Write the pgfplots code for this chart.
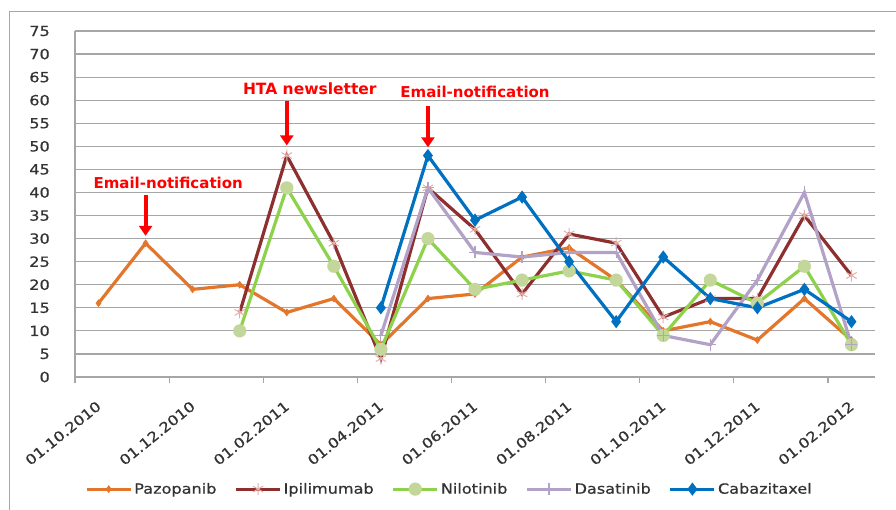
\documentclass[border=0pt]{standalone}
\usepackage{fontspec}
\setmainfont{DejaVu Sans}
\newfontfamily\lsfont{DejaVu Sans}[FakeStretch=1.15, FakeBold=0.6]
\usepackage{pgfplots}
\pgfplotsset{compat=1.18}
\usetikzlibrary{arrows.meta}
\definecolor{gridgray}{HTML}{A6A6A6}
\definecolor{cpaz}{HTML}{E3762A}
\definecolor{cipi}{HTML}{8E2F2F}
\definecolor{cipim}{HTML}{E3AFAA}
\definecolor{cnil}{HTML}{8ED14B}
\definecolor{cnilm}{HTML}{C4D79B}
\definecolor{cdas}{HTML}{B3A2C7}
\definecolor{ccab}{HTML}{0070C0}
\definecolor{txt}{HTML}{333333}
\begin{document}
\begin{tikzpicture}[x=1pt,y=1pt]
\useasboundingbox (0,0) rectangle (896,509);
\draw[gridgray, line width=1pt] (9,-10) -- (9,497) -- (910,497);
\begin{axis}[
  at={(75pt,132pt)}, anchor=south west,
  scale only axis, width=800pt, height=346pt,
  xmin=0, xmax=17, ymin=0, ymax=75,
  ytick={0,5,...,75},
  xtick={0,2,...,16},
  xticklabels={01.10.2010,01.12.2010,01.02.2011,01.04.2011,01.06.2011,01.08.2011,01.10.2011,01.12.2011,01.02.2012},
  axis x line=bottom, axis y line=left,
  axis line style={-, draw=gridgray, line width=1.2pt},
  ymajorgrids, grid style={gridgray, line width=1.2pt},
  tick align=outside, major tick length=6pt,
  xtick style={draw=gridgray, line width=1.2pt},
  ytick style={draw=none},
  /pgf/number format/assume math mode=true,
  ticklabel style={font=\lsfont\fontsize{14}{16}\selectfont, text=txt},
  yticklabel style={anchor=east, inner sep=0pt, xshift=-19pt},
  xticklabel style={inner sep=0pt, xshift=24pt, yshift=-21pt, rotate=39, anchor=east},
  legend style={at={(0.468,-0.324)}, anchor=center, draw=none, fill=none,
    legend columns=-1, font=\lsfont\fontsize{14}{16}\selectfont, text=txt,
    /tikz/every even column/.append style={column sep=16pt}},
  legend image code/.code={\draw[mark repeat=2,mark phase=2] plot coordinates {(0pt,0pt)(22pt,0pt)(44pt,0pt)};},
  clip=false,
]
\addplot[cpaz, line width=3.2pt, mark=diamond*, mark size=3.5pt, mark options={solid, fill=cpaz, draw=cpaz, line width=0.5pt}] coordinates {
(0.5,16)(1.5,29)(2.5,19)(3.5,20)(4.5,14)(5.5,17)(6.5,7)(7.5,17)(8.5,18)(9.5,26)(10.5,28)(11.5,21)(12.5,10)(13.5,12)(14.5,8)(15.5,17)(16.5,8)};
\addlegendentry{Pazopanib}
\addplot[cipi, line width=3.2pt, mark=asterisk, mark size=6pt, mark options={solid, draw=cipim, line width=1pt}] coordinates {
(3.5,14)(4.5,48)(5.5,29)(6.5,4)(7.5,41)(8.5,32)(9.5,18)(10.5,31)(11.5,29)(12.5,13)(13.5,17)(14.5,17)(15.5,35)(16.5,22)};
\addlegendentry{Ipilimumab}
\addplot[cnil, line width=3.2pt, mark=*, mark size=6.5pt, mark options={solid, fill=cnilm, draw=cnilm, line width=0.1pt}] coordinates {
(3.5,10)(4.5,41)(5.5,24)(6.5,6)(7.5,30)(8.5,19)(9.5,21)(10.5,23)(11.5,21)(12.5,9)(13.5,21)(14.5,16)(15.5,24)(16.5,7)};
\addlegendentry{Nilotinib}
\addplot[cdas, line width=3.2pt, mark=+, mark size=6pt, mark options={solid, draw=cdas, line width=1.2pt}] coordinates {
(6.5,9)(7.5,41)(8.5,27)(9.5,26)(10.5,27)(11.5,27)(12.5,9)(13.5,7)(14.5,21)(15.5,40)(16.5,7)};
\addlegendentry{Dasatinib}
\addplot[ccab, line width=3.2pt, mark=diamond*, mark size=4pt, mark options={solid, fill=ccab, draw=ccab}] coordinates {
(6.5,15)(7.5,48)(8.5,34)(9.5,39)(10.5,25)(11.5,12)(12.5,26)(13.5,17)(14.5,15)(15.5,19)(16.5,12)};
\addlegendentry{Cabazitaxel}
\draw[red, line width=4pt, -{Triangle[width=13pt,length=10pt]}] (1.5,39.4) -- (1.5,30.6);
\draw[red, line width=4pt, -{Triangle[width=13pt,length=10pt]}] (4.5,59.8) -- (4.5,50.2);
\draw[red, line width=4pt, -{Triangle[width=13pt,length=10pt]}] (7.5,58.8) -- (7.5,49.8);
\node[red, font=\bfseries\fontsize{15}{17}\selectfont] at (1.98,42) {Email-notification};
\node[red, font=\bfseries\fontsize{15.5}{17}\selectfont] at (4.99,62.5) {HTA newsletter};
\node[red, font=\bfseries\fontsize{15}{17}\selectfont] at (8.5,61.7) {Email-notification};
\end{axis}
\end{tikzpicture}
\end{document}
